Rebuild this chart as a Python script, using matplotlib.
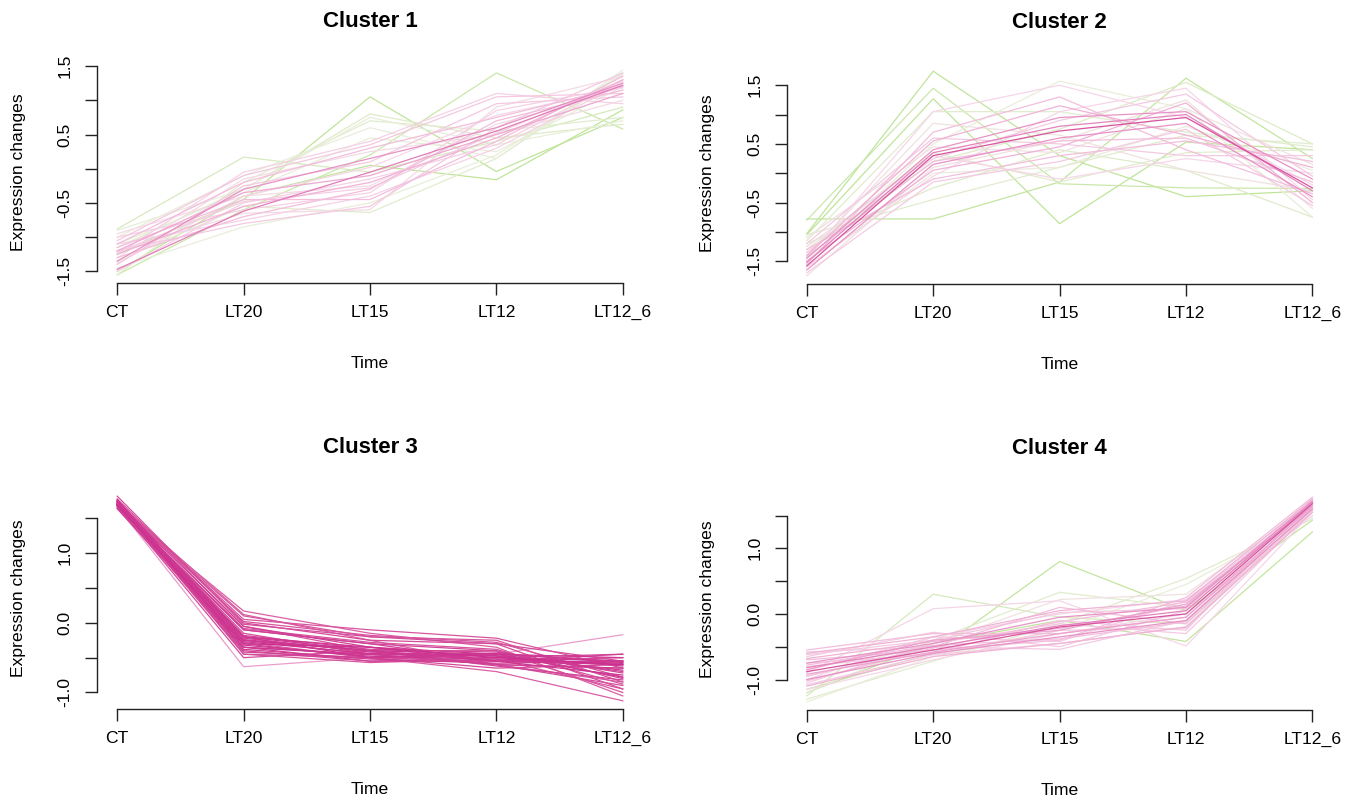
#!/usr/bin/env python3

import numpy as np
import matplotlib
matplotlib.use('Agg')
from matplotlib import pyplot as plt
from matplotlib.colors import LinearSegmentedColormap

plt.rcParams['font.family'] = ['Liberation Sans', 'DejaVu Sans']

time_labels = ['CT', 'LT20', 'LT15', 'LT12', 'LT12_6']

# standardised expression per gene: CT, LT20, LT15, LT12, LT12_6
c1_profiles = [
    [-1.47, -0.62, -0.05, 0.55, 1.22],
    [-1.35, -0.30, 0.15, 0.60, 1.25],
    [-1.20, -0.35, -0.10, 0.50, 1.10],
    [-1.25, -0.55, -0.20, 0.45, 1.30],
    [-1.10, -0.20, 0.30, 0.75, 1.20],
    [-1.15, -0.45, -0.45, 0.40, 1.35],
    [-1.30, -0.70, -0.30, 0.70, 1.15],
    [-1.05, -0.10, 0.35, 1.05, 1.10],
    [-1.20, -0.80, -0.55, 0.60, 1.40],
    [-1.40, -0.25, 0.10, 0.95, 1.05],
    [-1.00, -0.60, -0.35, 0.85, 1.20],
    [-1.25, -0.05, 0.40, 1.10, 0.95],
    [-1.50, -0.50, -0.15, 0.35, 1.30],
    [-1.10, -0.75, -0.40, 0.30, 1.25],
    [-1.30, -0.15, 0.25, 0.50, 1.00],
    [-0.95, -0.40, -0.25, 0.65, 1.15],
    [-1.20, -0.65, -0.60, 0.90, 1.35],
    [-0.90, -0.30, 0.75, 0.35, 0.70],
    [-1.55, -0.20, 0.70, 0.55, 0.75],
    [-1.45, -0.85, -0.50, 0.20, 1.40],
    [-0.88, 0.17, -0.05, 0.40, 0.90],
    [-1.35, -0.55, -0.64, 0.15, 1.38],
    [-1.10, -0.35, 0.45, 0.25, 1.20],
    [-1.25, -0.45, 1.05, -0.04, 0.75],
    [-1.55, -0.60, 0.20, 1.40, 0.58],
    [-1.50, -0.40, 0.05, -0.16, 0.86],
    [-1.00, -0.10, 0.60, 0.15, 1.44],
    [-1.15, -0.30, 0.80, 0.45, 0.65],
    [-1.22, -0.48, -0.28, 0.52, 1.28],
    [-1.38, -0.40, 0.02, 0.78, 1.18],
]
c1_membership = [0.72, 0.66, 0.58, 0.55, 0.50, 0.50, 0.50, 0.46, 0.46, 0.46,
                 0.42, 0.42, 0.42, 0.42, 0.38, 0.38, 0.38, 0.30, 0.28, 0.30,
                 0.25, 0.28, 0.30, 0.18, 0.22, 0.18, 0.30, 0.27, 0.44, 0.40]

c2_profiles = [
    [-1.58, 0.30, 0.72, 0.95, -0.25],
    [-1.45, 0.40, 0.95, 1.05, -0.10],
    [-1.65, 0.15, 0.60, 0.85, -0.40],
    [-1.40, 0.55, 1.15, 0.65, 0.10],
    [-1.50, 0.05, 0.45, 1.20, -0.50],
    [-1.30, -0.10, 0.30, 0.55, 0.20],
    [-1.55, 0.70, 1.30, 0.40, -0.35],
    [-1.35, 0.25, 0.90, 1.35, -0.05],
    [-1.70, -0.15, 0.20, 0.75, -0.55],
    [-1.20, 0.60, 0.50, 0.30, 0.30],
    [-1.45, 1.05, 1.50, 0.95, -0.20],
    [-1.25, 0.30, -0.10, 0.25, 0.00],
    [-1.60, -0.05, 1.05, 1.45, -0.45],
    [-1.10, 0.45, 0.35, 1.10, 0.15],
    [-1.40, 0.85, 0.65, 0.05, -0.30],
    [-1.75, 0.10, 0.55, 1.25, -0.60],
    [-1.15, 1.05, 1.05, 0.70, 0.45],
    [-1.30, 0.35, -0.15, 0.35, 0.40],
    [-1.05, -0.45, 0.10, 0.65, 0.50],
    [-1.50, 0.50, 1.57, 1.10, -0.75],
    [-1.03, 1.74, 0.30, -0.40, -0.30],
    [-1.05, 1.27, -0.86, 0.53, 0.40],
    [-0.78, -0.78, -0.15, 1.62, 0.25],
    [-0.80, 1.45, -0.18, -0.25, -0.26],
    [-1.20, -0.25, 0.40, 0.05, -0.75],
    [-1.35, 0.20, 0.75, 1.55, 0.50],
    [-1.60, 0.00, 0.10, 0.80, 0.05],
    [-1.52, 0.35, 0.80, 1.00, -0.30],
    [-1.42, 0.20, 0.55, 0.60, -0.15],
]
c2_membership = [0.85, 0.65, 0.65, 0.55, 0.55, 0.50, 0.50, 0.45, 0.45, 0.45,
                 0.40, 0.40, 0.40, 0.35, 0.35, 0.35, 0.28, 0.28, 0.28, 0.30,
                 0.18, 0.18, 0.20, 0.22, 0.27, 0.27, 0.32, 0.70, 0.50]

c3_profiles = [
    [1.70, -0.25, -0.45, -0.50, -0.55],
    [1.75, -0.20, -0.40, -0.55, -0.60],
    [1.72, -0.30, -0.50, -0.45, -0.55],
    [1.68, -0.10, -0.30, -0.40, -0.80],
    [1.78, 0.00, -0.25, -0.30, -0.95],
    [1.65, -0.35, -0.45, -0.60, -0.65],
    [1.70, 0.10, -0.20, -0.25, -0.85],
    [1.74, -0.40, -0.55, -0.50, -0.45],
    [1.66, 0.17, -0.15, -0.35, -1.05],
    [1.72, -0.05, -0.35, -0.45, -0.70],
    [1.76, -0.45, -0.50, -0.65, -0.60],
    [1.69, -0.20, -0.35, -0.55, -0.75],
    [1.71, -0.15, -0.45, -0.60, -0.90],
    [1.67, -0.63, -0.50, -0.45, -0.17],
    [1.73, 0.05, -0.10, -0.22, -0.65],
    [1.70, -0.28, -0.50, -0.70, -1.12],
    [1.77, -0.25, -0.40, -0.45, -0.50],
    [1.64, -0.35, -0.55, -0.55, -0.45],
    [1.70, -0.10, -0.30, -0.55, -0.58],
    [1.75, -0.05, -0.40, -0.40, -1.00],
    [1.68, -0.50, -0.40, -0.60, -0.65],
    [1.72, -0.20, -0.50, -0.45, -0.78],
    [1.73, 0.12, -0.25, -0.60, -0.85],
    [1.69, -0.30, -0.35, -0.50, -0.60],
    [1.71, -0.45, -0.57, -0.52, -0.95],
    [1.82, -0.02, -0.20, -0.30, -0.55],
    [1.74, -0.22, -0.42, -0.48, -0.62],
    [1.69, -0.32, -0.48, -0.52, -0.58],
    [1.71, -0.18, -0.38, -0.42, -0.72],
    [1.73, -0.38, -0.52, -0.58, -0.55],
    [1.67, -0.08, -0.28, -0.38, -0.88],
    [1.76, -0.27, -0.44, -0.47, -0.68],
    [1.70, -0.42, -0.50, -0.55, -0.50],
    [1.72, 0.02, -0.18, -0.28, -0.78],
    [1.68, -0.24, -0.40, -0.62, -0.82],
    [1.75, -0.35, -0.46, -0.44, -0.57],
]
c3_membership = [0.95, 0.95, 0.92, 0.90, 0.88, 0.92, 0.85, 0.92, 0.82, 0.92,
                 0.88, 0.95, 0.88, 0.62, 0.85, 0.82, 0.95, 0.92, 0.92, 0.85,
                 0.88, 0.95, 0.82, 0.97, 0.85, 0.88, 0.93, 0.95, 0.90, 0.93,
                 0.85, 0.95, 0.90, 0.85, 0.90, 0.95]

c4_profiles = [
    [-0.88, -0.55, -0.20, 0.00, 1.68],
    [-0.75, -0.45, -0.05, 0.10, 1.72],
    [-1.00, -0.60, -0.35, -0.10, 1.60],
    [-0.60, -0.35, 0.05, 0.20, 1.75],
    [-1.10, -0.65, -0.45, -0.20, 1.55],
    [-0.85, -0.40, -0.25, 0.15, 1.65],
    [-0.55, -0.30, -0.30, -0.05, 1.70],
    [-0.95, -0.50, 0.10, -0.15, 1.62],
    [-0.70, -0.55, -0.40, 0.25, 1.78],
    [-1.05, -0.45, -0.15, -0.30, 1.58],
    [-0.65, -0.28, -0.50, 0.05, 1.68],
    [-0.80, -0.60, -0.10, -0.25, 1.74],
    [-1.15, -0.70, -0.30, 0.00, 1.50],
    [-0.90, 0.08, 0.20, -0.49, 1.55],
    [-0.58, -0.50, -0.54, -0.10, 1.66],
    [-1.00, -0.35, 0.00, 0.22, 1.60],
    [-1.30, -0.72, -0.15, 0.54, 1.45],
    [-1.25, 0.30, -0.05, -0.15, 1.55],
    [-1.20, -0.40, 0.33, 0.10, 1.65],
    [-1.15, -0.60, 0.80, 0.05, 1.43],
    [-1.20, -0.45, -0.10, -0.42, 1.25],
    [-1.34, -0.65, -0.25, 0.45, 1.48],
    [-0.95, -0.45, 0.22, 0.30, 1.70],
    [-0.75, -0.62, -0.45, -0.20, 1.60],
    [-0.82, -0.50, -0.18, 0.05, 1.70],
    [-0.92, -0.58, -0.30, -0.05, 1.64],
    [-0.68, -0.42, -0.22, 0.12, 1.72],
    [-1.02, -0.52, -0.12, 0.18, 1.62],
    [-0.78, -0.48, -0.38, -0.12, 1.66],
    [-0.62, -0.40, 0.02, 0.08, 1.76],
    [-1.08, -0.62, -0.25, -0.22, 1.58],
    [-0.86, -0.35, -0.42, 0.20, 1.69],
]
c4_membership = [0.85, 0.65, 0.65, 0.55, 0.55, 0.60, 0.50, 0.50, 0.50, 0.45,
                 0.45, 0.45, 0.40, 0.40, 0.45, 0.40, 0.28, 0.25, 0.28, 0.20,
                 0.20, 0.30, 0.35, 0.45, 0.70, 0.60, 0.55, 0.50, 0.50, 0.45,
                 0.45, 0.45]

# membership colour ramp: low = green, high = magenta
mem_cmap = LinearSegmentedColormap.from_list('mem', [
    (0.00, '#a9d86e'),
    (0.20, '#c3e59f'),
    (0.30, '#e9eedb'),
    (0.40, '#f6d6e8'),
    (0.55, '#f0b3d6'),
    (0.70, '#e484be'),
    (0.85, '#d7559f'),
    (1.00, '#c8288a'),
])

W, H = 1359.0, 800.0


def px_rect(left, bottom, width, height):
    return [left / W, (H - bottom) / H, width / W, height / H]


def draw_cluster(fig, rect, title, profiles, membership, yticks, ylabels):
    ax = fig.add_axes(rect)
    x = np.arange(len(time_labels))
    for i in np.argsort(membership, kind='stable'):
        ax.plot(x, profiles[i], color=mem_cmap(membership[i]), lw=0.9)
    ax.margins(x=0.04, y=0.04)

    for s in ['top', 'right']:
        ax.spines[s].set_visible(False)
    for s in ['left', 'bottom']:
        ax.spines[s].set_color('#222222')
        ax.spines[s].set_linewidth(1.0)
    ax.spines['left'].set_bounds(yticks[0], yticks[-1])
    ax.spines['bottom'].set_bounds(0, len(time_labels) - 1)

    ax.set_xticks(x)
    ax.set_xticklabels(time_labels)
    ax.set_yticks(yticks)
    ax.set_yticklabels(ylabels, rotation=90, va='center')
    ax.tick_params(length=8.5, width=1.0, color='#222222', pad=7,
                   labelsize=12.6, labelcolor='black')
    ax.tick_params(axis='y', pad=9)

    ax.set_xlabel('Time', fontsize=12.6, color='black')
    ax.xaxis.set_label_coords(0.5, -0.362)
    ax.xaxis.label.set_va('center')
    ax.set_ylabel('Expression changes', fontsize=12.6, color='black')
    ax.yaxis.set_label_coords(-0.144, 0.5)
    ax.yaxis.label.set_va('center')

    ax.text(0.5, 1.181, title, transform=ax.transAxes, ha='center', va='center',
            fontsize=16, fontweight='bold', color='black')
    return ax


fig = plt.figure(figsize=(13.59, 8), dpi=100)

ticks_a = [-1.5, -1.0, -0.5, 0.0, 0.5, 1.0, 1.5]
labels_a = ['-1.5', '', '-0.5', '', '0.5', '', '1.5']
ticks_b = [-1.0, -0.5, 0.0, 0.5, 1.0, 1.5]
labels_b = ['-1.0', '', '0.0', '', '1.0', '']

draw_cluster(fig, px_rect(97, 283, 546, 221), 'Cluster 1', c1_profiles, c1_membership, ticks_a, labels_a)
draw_cluster(fig, px_rect(786.6, 284, 546, 221), 'Cluster 2', c2_profiles, c2_membership, ticks_a, labels_a)
draw_cluster(fig, px_rect(97, 709, 546, 221), 'Cluster 3', c3_profiles, c3_membership, ticks_b, labels_b)
draw_cluster(fig, px_rect(786.6, 710, 546, 221), 'Cluster 4', c4_profiles, c4_membership, ticks_b, labels_b)

plt.savefig('out.png', dpi=100)
